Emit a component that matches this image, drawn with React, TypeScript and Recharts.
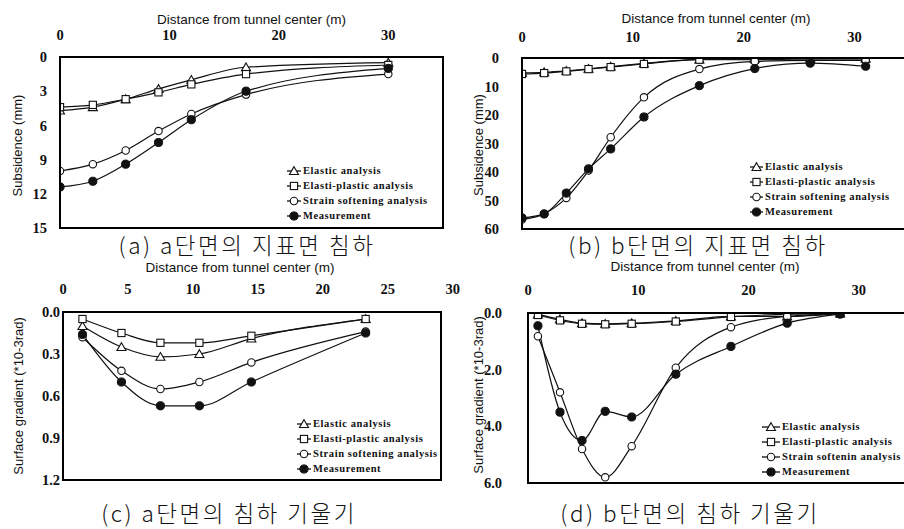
import React from 'react';
import { LineChart, Line, XAxis, YAxis, Legend, Label, ReferenceArea } from 'recharts';

// ---------- data ----------
// (a) subsidence, section a
const aDistance = [0, 3, 6, 9, 12, 17, 30];
const aElastic = [4.7, 4.4, 3.7, 2.8, 2.0, 0.9, 0.5];
const aElastoPlastic = [4.4, 4.2, 3.7, 3.1, 2.4, 1.5, 0.7];
const aSoftening = [10.0, 9.4, 8.2, 6.5, 5.0, 3.3, 1.5];
const aMeasured = [11.4, 10.9, 9.4, 7.5, 5.5, 3.0, 1.0];

// (b) subsidence, section b
const bDistance = [0, 2, 4, 6, 8, 11, 16, 21, 26, 31];
const bElastic = [5.2, 5.0, 4.5, 3.8, 3.0, 1.9, 0.5, 0.3, 0.2, 0.2];
const bElastoPlastic = [5.6, 5.3, 4.7, 3.9, 3.2, 2.1, 0.6, 0.6, 0.3, 0.3];
const bSoftening = [56.7, 54.7, 49.1, 39.5, 27.8, 13.8, 3.9, 1.2, 0.8, 0.8];
const bMeasured = [56.1, 54.7, 47.4, 38.9, 31.9, 20.7, 9.7, 3.7, 1.8, 2.9];

// (c) surface gradient, section a
const cDistance = [1.5, 4.5, 7.5, 10.5, 14.5, 23.3];
const cElastic = [0.1, 0.25, 0.32, 0.3, 0.19, 0.05];
const cElastoPlastic = [0.05, 0.15, 0.22, 0.22, 0.17, 0.05];
const cSoftening = [0.18, 0.42, 0.55, 0.5, 0.36, 0.14];
const cMeasured = [0.16, 0.5, 0.67, 0.67, 0.5, 0.15];

// (d) surface gradient, section b
const dDistance = [0.9, 2.9, 4.9, 7.0, 9.4, 13.4, 18.4, 23.5, 28.3];
const dElastic = [0.05, 0.22, 0.36, 0.38, 0.36, 0.28, 0.12, 0.12, 0.02];
const dElastoPlastic = [0.07, 0.26, 0.38, 0.4, 0.38, 0.3, 0.14, 0.04, 0.02];
const dSoftening = [0.82, 2.8, 4.8, 5.8, 4.7, 1.93, 0.5, 0.12, 0.03];
const dMeasured = [0.45, 3.5, 4.5, 3.47, 3.67, 2.16, 1.18, 0.36, 0.04];

// ticks
const aXTicks = [0, 10, 20, 30];
const aYTicks = [0, 3, 6, 9, 12, 15];
const bXTicks = [0, 10, 20, 30];
const bYTicks = [0, 10, 20, 30, 40, 50, 60];
const cXTicks = [0, 5, 10, 15, 20, 25, 30];
const cYTicks = [0, 0.3, 0.6, 0.9, 1.2];
const dXTicks = [0, 10, 20, 30];
const dYTicks = [0, 2, 4, 6];

// labels
const xTitle = 'Distance from tunnel center (m)';
const subsidenceTitle = 'Subsidence (mm)';
const gradientTitle = 'Surface gradient (*10-3rad)';
const namesABC = ['Elastic analysis', 'Elasti-plastic analysis', 'Strain softening analysis', 'Measurement'];
const namesD = ['Elastic analysis', 'Elasti-plastic analysis', 'Strain softenin analysis', 'Measurement'];
const captionA = '(a) a단면의 지표면 침하';
const captionB = '(b) b단면의 지표면 침하';
const captionC = '(c) a단면의 침하 기울기';
const captionD = '(d) b단면의 침하 기울기';

const buildRows = (xs: number[], e: number[], ep: number[], s: number[], m: number[]) =>
  xs.map((x, i) => ({ x, elastic: e[i], plastic: ep[i], softening: s[i], measured: m[i] }));

const SHAPES: Record<string, string> = {
  elastic: 'triangle',
  plastic: 'square',
  softening: 'circle',
  measured: 'filled',
};
const KEYS = ['elastic', 'plastic', 'softening', 'measured'];

const INK = '#111';

function Marker({ shape, cx, cy }: { shape: string; cx: number; cy: number }) {
  if (shape === 'triangle') {
    const s = 4.3;
    return (
      <path
        d={`M${cx},${cy - s} L${cx + s * 1.05},${cy + s * 0.8} L${cx - s * 1.05},${cy + s * 0.8} Z`}
        fill="#fff"
        stroke={INK}
        strokeWidth={1.1}
      />
    );
  }
  if (shape === 'square') {
    return <rect x={cx - 3.6} y={cy - 3.6} width={7.2} height={7.2} fill="#fff" stroke={INK} strokeWidth={1.1} />;
  }
  if (shape === 'circle') {
    return <circle cx={cx} cy={cy} r={3.7} fill="#fff" stroke={INK} strokeWidth={1.1} />;
  }
  return <circle cx={cx} cy={cy} r={4.1} fill={INK} stroke={INK} strokeWidth={1} />;
}

const DOTS: Record<string, (p: any) => any> = {};
KEYS.forEach((k) => {
  const shape = SHAPES[k];
  DOTS[k] = (p: any) => {
    if (p.cx == null || p.cy == null) return <g key={`n-${k}-${p.index}`} />;
    return (
      <g key={`d-${k}-${p.index}`}>
        <Marker shape={shape} cx={p.cx} cy={p.cy} />
      </g>
    );
  };
});

const LEGENDS: Record<number, (props: any) => any> = {};
const getLegend = (iconW: number) => {
  if (!LEGENDS[iconW]) {
    LEGENDS[iconW] = (props: any) => {
      const payload = [...(props.payload || [])].sort(
        (a: any, b: any) => KEYS.indexOf(a.dataKey) - KEYS.indexOf(b.dataKey)
      );
      return (
        <div style={{ fontFamily: '"Liberation Serif", serif', fontWeight: 700, fontSize: 10.5, letterSpacing: 0.6, color: INK }}>
          {payload.map((entry: any) => (
            <div key={entry.value} style={{ display: 'flex', alignItems: 'center', height: 15, whiteSpace: 'nowrap' }}>
              <svg width={iconW} height={12} style={{ marginRight: 2 }}>
                <line x1={0} y1={6} x2={iconW} y2={6} stroke={INK} strokeWidth={1.3} />
                <Marker shape={SHAPES[entry.dataKey]} cx={iconW / 2} cy={6} />
              </svg>
              <span>{entry.value}</span>
            </div>
          ))}
        </div>
      );
    };
  }
  return LEGENDS[iconW];
};

type Panel = {
  id: string;
  L: number;
  T: number;
  W: number;
  H: number;
  plotL: number;
  plotT: number;
  plotR: number;
  plotB: number;
  rows: any[];
  names: string[];
  xDomain: [number, number];
  xTicks: number[];
  yDomain: [number, number];
  yTicks: number[];
  yFmt: (v: number) => string;
  xTickGap: number;
  yTickGap: number;
  xTitleDx: number;
  xTitleDy: number;
  yTitle: string;
  yTitleDx: number;
  yTitleDy: number;
  legendL: number;
  legendT: number;
  iconW: number;
};

const panels: Panel[] = [
  {
    id: 'a', L: 0, T: 0, W: 452, H: 250, plotL: 60, plotT: 57, plotR: 443, plotB: 228,
    rows: buildRows(aDistance, aElastic, aElastoPlastic, aSoftening, aMeasured), names: namesABC,
    xDomain: [0, 35], xTicks: aXTicks, yDomain: [0, 15], yTicks: aYTicks, yFmt: (v) => String(v),
    xTickGap: 17, yTickGap: 13, xTitleDx: 0, xTitleDy: -9.5, yTitle: subsidenceTitle, yTitleDx: -13, yTitleDy: 3,
    legendL: 287, legendT: 163, iconW: 14,
  },
  {
    id: 'b', L: 452, T: 0, W: 460, H: 250, plotL: 70, plotT: 58, plotR: 458, plotB: 229,
    rows: buildRows(bDistance, bElastic, bElastoPlastic, bSoftening, bMeasured), names: namesABC,
    xDomain: [0, 35], xTicks: bXTicks, yDomain: [0, 60], yTicks: bYTicks, yFmt: (v) => String(v),
    xTickGap: 16, yTickGap: 23, xTitleDx: 0, xTitleDy: -11, yTitle: subsidenceTitle, yTitleDx: -9, yTitleDy: 1.5,
    legendL: 298, legendT: 159, iconW: 13,
  },
  {
    id: 'c', L: 0, T: 256, W: 470, H: 245, plotL: 63, plotT: 56, plotR: 441, plotB: 224,
    rows: buildRows(cDistance, cElastic, cElastoPlastic, cSoftening, cMeasured), names: namesABC,
    xDomain: [0, 29.1], xTicks: cXTicks, yDomain: [0, 1.2], yTicks: cYTicks, yFmt: (v) => v.toFixed(1),
    xTickGap: 18, yTickGap: 3, xTitleDx: -12, xTitleDy: -17, yTitle: gradientTitle, yTitleDx: -13.5, yTitleDy: 0,
    legendL: 297, legendT: 160, iconW: 14,
  },
  {
    id: 'd', L: 452, T: 256, W: 470, H: 245, plotL: 76, plotT: 57, plotR: 462, plotB: 227,
    rows: buildRows(dDistance, dElastic, dElastoPlastic, dSoftening, dMeasured), names: namesD,
    xDomain: [0, 35], xTicks: dXTicks, yDomain: [0, 6], yTicks: dYTicks, yFmt: (v) => v.toFixed(1),
    xTickGap: 18, yTickGap: 26, xTitleDx: -16, xTitleDy: -18.5, yTitle: gradientTitle, yTitleDx: -12, yTitleDy: -3,
    legendL: 310, legendT: 163, iconW: 18,
  },
];

const captions = [
  { text: captionA, cx: 247, cy: 244 },
  { text: captionB, cx: 698, cy: 244 },
  { text: captionC, cx: 229, cy: 512 },
  { text: captionD, cx: 690, cy: 512 },
];

const tickStyle = { fontFamily: '"Liberation Serif", serif', fontWeight: 700, fontSize: 14.5, fill: INK };
const titleStyle = { fontFamily: '"Liberation Sans", Arial, sans-serif', fontSize: 13.5, fill: INK };
const yTitleStyle = { fontFamily: '"Liberation Sans", Arial, sans-serif', fontSize: 13, fill: INK };
const FRAME = { stroke: '#000', strokeWidth: 1.6 };
const TS = 6;
const FW = 2;

function FrameEdges({ p }: { p: Panel }) {
  const w = p.plotR - p.plotL;
  const h = p.plotB - p.plotT;
  const base: React.CSSProperties = { position: 'absolute', background: '#000', pointerEvents: 'none', zIndex: 5 };
  return (
    <>
      <div style={{ ...base, left: p.plotL - FW / 2, top: p.plotT - FW / 2, width: w + FW, height: FW }} />
      <div style={{ ...base, left: p.plotL - FW / 2, top: p.plotB - FW / 2, width: w + FW, height: FW }} />
      <div style={{ ...base, left: p.plotL - FW / 2, top: p.plotT - FW / 2, width: FW, height: h + FW }} />
      <div style={{ ...base, left: p.plotR - FW / 2, top: p.plotT - FW / 2, width: FW, height: h + FW }} />
    </>
  );
}

function PanelChart({ p }: { p: Panel }) {
  return (
    <div style={{ position: 'absolute', left: p.L, top: p.T, width: p.W, height: p.H }}>
      <LineChart
        width={p.W}
        height={p.H}
        data={p.rows}
        margin={{ top: 0, left: 0, right: p.W - p.plotR, bottom: p.H - p.plotB }}
      >
        <XAxis
          dataKey="x"
          type="number"
          orientation="top"
          domain={p.xDomain}
          ticks={p.xTicks}
          height={p.plotT}
          axisLine={FRAME}
          tickLine={false}
          tickMargin={p.xTickGap - TS}
          tick={tickStyle}
          interval={0}
          allowDataOverflow
        >
          <Label value={xTitle} position="center" dx={p.xTitleDx} dy={p.xTitleDy} style={titleStyle} />
        </XAxis>
        <YAxis
          type="number"
          reversed
          domain={p.yDomain}
          ticks={p.yTicks}
          width={p.plotL}
          axisLine={FRAME}
          tickLine={false}
          tickMargin={p.yTickGap - TS}
          tickFormatter={p.yFmt}
          tick={tickStyle}
          interval={0}
          allowDataOverflow
        >
          <Label
            value={p.yTitle}
            position="center"
            angle={-90}
            dx={p.yTitleDx}
            dy={p.yTitleDy}
            style={yTitleStyle}
          />
        </YAxis>
        <ReferenceArea
          x1={p.xDomain[0]}
          x2={p.xDomain[1]}
          y1={p.yDomain[0]}
          y2={p.yDomain[1]}
          fill="none"
          stroke="#000"
          strokeWidth={1.6}
          ifOverflow="visible"
        />
        <Legend
          layout="vertical"
          align="center"
          verticalAlign="middle"
          content={getLegend(p.iconW)}
          wrapperStyle={{ left: p.legendL, top: p.legendT, width: 'auto', height: 'auto', right: 'auto', bottom: 'auto' }}
        />
        {KEYS.map((k, i) => (
          <Line
            key={k}
            dataKey={k}
            name={p.names[i]}
            type="monotone"
            stroke={INK}
            strokeWidth={1.2}
            dot={DOTS[k]}
            activeDot={false}
            isAnimationActive={false}
          />
        ))}
      </LineChart>
      <FrameEdges p={p} />
    </div>
  );
}

export default function App() {
  return (
    <div
      style={{
        position: 'absolute',
        left: 0,
        top: 0,
        width: 904,
        height: 529,
        overflow: 'hidden',
        background: '#fff',
      }}
    >
      {panels.map((p) => (
        <PanelChart key={p.id} p={p} />
      ))}
      {captions.map((c) => (
        <div
          key={c.text}
          style={{
            position: 'absolute',
            left: c.cx - 200,
            top: c.cy - 15,
            width: 400,
            height: 30,
            lineHeight: '30px',
            textAlign: 'center',
            fontFamily: '"Noto Sans CJK KR", sans-serif',
            fontWeight: 300,
            fontSize: 22.5,
            letterSpacing: 2.5,
            color: INK,
            whiteSpace: 'pre',
          }}
        >
          {c.text}
        </div>
      ))}
    </div>
  );
}
